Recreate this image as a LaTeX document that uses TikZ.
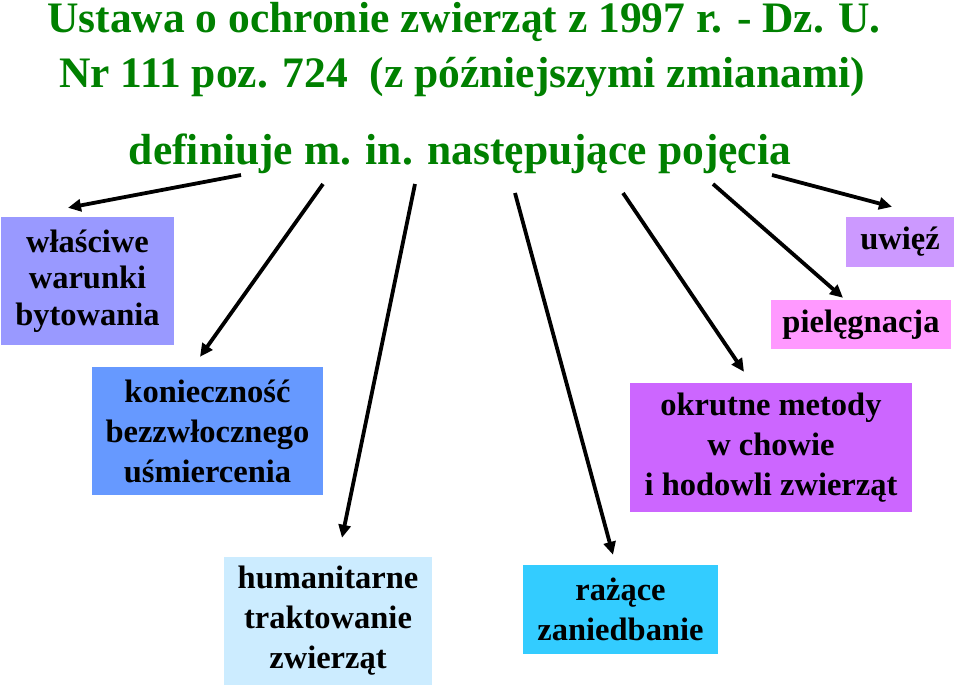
\documentclass[tikz,border=0pt]{standalone}
\usepackage{fontspec}
\setmainfont{Liberation Serif}
\usetikzlibrary{arrows.meta}

\begin{document}
\begin{tikzpicture}[x=1pt,y=-1pt,
	kasten/.style={inner sep=0pt, align=center, font=\fontsize{32.5}{40}\selectfont\bfseries},
	titel/.style={anchor=base, titelgruen, font=\fontsize{43.5}{50}\selectfont\bfseries},
	pfeil/.style={line width=3.8pt, -{Triangle[length=13pt,width=12pt]}}]

		\definecolor{titelgruen}{HTML}{008000}
		\definecolor{lila}{HTML}{9999FF}
		\definecolor{blau}{HTML}{6699FF}
		\definecolor{hellblau}{HTML}{CCECFF}
		\definecolor{cyan}{HTML}{33CCFF}
		\definecolor{violett}{HTML}{CC66FF}
		\definecolor{flieder}{HTML}{CC99FF}
		\definecolor{pink}{HTML}{FF99FF}

		\useasboundingbox (0,0) rectangle (960,690);

		% Titel
		\node[titel] (t1) at (464,33) {Ustawa o ochronie zwierząt z 1997 r. - Dz. U.};
		\node[titel] (t2) at (462,88) {Nr 111 poz. 724\ \ (z późniejszymi zmianami)};
		\node[titel] (t3) at (460,164) {definiuje m. in. następujące pojęcia};

		% Kaesten
		\node[kasten, fill=lila, minimum width=173, minimum height=128, font=\fontsize{32.5}{36.5}\selectfont\bfseries] (k1) at (87.5,281) {właściwe\\warunki\\bytowania};
		\node[kasten, fill=blau, minimum width=231, minimum height=128] (k2) at (207.5,431) {konieczność\\bezzwłocznego\\uśmiercenia};
		\node[kasten, fill=hellblau, minimum width=208, minimum height=128] (k3) at (328,621) {humanitarne\\traktowanie\\zwierząt};
		\node[kasten, fill=cyan, minimum width=195, minimum height=89] (k4) at (620.5,609.5) {rażące\\zaniedbanie};
		\node[kasten, fill=violett, minimum width=282, minimum height=129] (k5) at (771,447.5) {okrutne metody\\w chowie\\i hodowli zwierząt};
		\node[kasten, fill=flieder, minimum width=108, minimum height=50] (k6) at (900,242) {uwięź};
		\node[kasten, fill=pink, minimum width=180, minimum height=49] (k7) at (861,324.5) {pielęgnacja};

		% Pfeile
		\coordinate (s1) at (241,175);
		\coordinate (s2) at (323,184);
		\coordinate (s3) at (415,184);
		\coordinate (s4) at (515,193);
		\coordinate (s5) at (623,193);
		\coordinate (s6) at (713,184);
		\coordinate (s7) at (772,175);
		\draw[pfeil] (s1) -- ([shift={(-19.5,-9)}]k1.north);
		\draw[pfeil] (s2) -- ([shift={(-7.5,-10)}]k2.north);
		\draw[pfeil] (s3) -- ([shift={(14,-19)}]k3.north);
		\draw[pfeil] (s4) -- ([shift={(-7.5,-10)}]k4.north);
		\draw[pfeil] (s5) -- ([shift={(-27,-11)}]k5.north);
		\draw[pfeil] (s6) -- ([shift={(-18,-2)}]k7.north);
		\draw[pfeil] (s7) -- ([shift={(-8,-10)}]k6.north);

\end{tikzpicture}
\end{document}
